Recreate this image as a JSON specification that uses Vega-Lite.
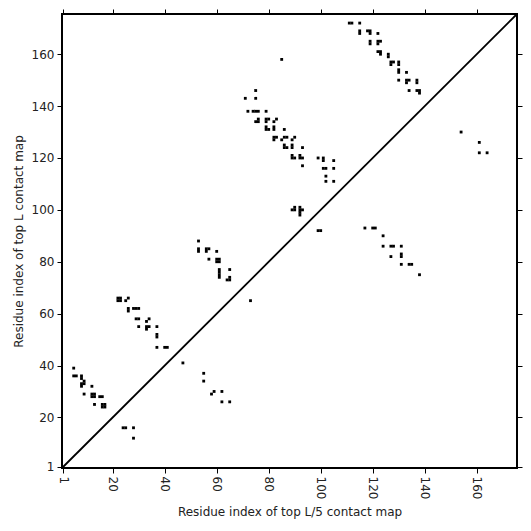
{
  "$schema": "https://vega.github.io/schema/vega-lite/v6.json",
  "width": 455,
  "height": 454,
  "autosize": {"type": "none"},
  "padding": {"left": 62, "top": 14, "right": 14, "bottom": 63},
  "background": "white",
  "config": {
    "view": {"stroke": "black", "strokeWidth": 2},
    "font": "DejaVu Sans",
    "axis": {"labelFont": "DejaVu Sans", "titleFont": "DejaVu Sans", "labelFontSize": 12, "titleFontSize": 12, "titleFontWeight": "normal", "labelColor": "#222", "titleColor": "#222", "tickColor": "black", "tickSize": 5, "tickWidth": 1, "grid": false, "domain": false, "labelPadding": 3}
  },
  "datasets": {
    "cells": [
      {"i":111,"j":172},{"i":112,"j":172},{"i":115,"j":172},
      {"i":115,"j":169},{"i":115,"j":168},{"i":118,"j":169},{"i":119,"j":169},{"i":119,"j":168},{"i":122,"j":168},
      {"i":119,"j":165},{"i":119,"j":164},{"i":122,"j":165},{"i":123,"j":165},{"i":122,"j":164},
      {"i":122,"j":161},{"i":123,"j":161},{"i":123,"j":160},{"i":126,"j":160},{"i":126,"j":159},
      {"i":127,"j":157},{"i":127,"j":156},{"i":128,"j":157},{"i":130,"j":157},{"i":130,"j":156},
      {"i":130,"j":154},{"i":130,"j":153},{"i":133,"j":153},
      {"i":130,"j":150},{"i":133,"j":150},{"i":134,"j":150},{"i":133,"j":149},{"i":137,"j":150},{"i":137,"j":149},
      {"i":134,"j":146},{"i":137,"j":146},{"i":138,"j":146},{"i":138,"j":145},
      {"i":85,"j":158},
      {"i":75,"j":146},{"i":71,"j":143},{"i":75,"j":143},
      {"i":72,"j":138},{"i":74,"j":138},{"i":75,"j":138},{"i":76,"j":138},{"i":79,"j":138},
      {"i":75,"j":134},{"i":76,"j":134},{"i":76,"j":135},{"i":79,"j":135},{"i":80,"j":135},{"i":79,"j":134},{"i":83,"j":135},{"i":82,"j":134},
      {"i":79,"j":131},{"i":79,"j":132},{"i":80,"j":131},{"i":82,"j":131},{"i":82,"j":132},{"i":86,"j":131},
      {"i":82,"j":128},{"i":83,"j":128},{"i":82,"j":127},{"i":86,"j":128},{"i":87,"j":128},{"i":85,"j":127},{"i":89,"j":127},{"i":90,"j":128},
      {"i":86,"j":125},{"i":86,"j":124},{"i":87,"j":124},{"i":89,"j":125},{"i":89,"j":124},{"i":93,"j":124},
      {"i":89,"j":121},{"i":89,"j":120},{"i":90,"j":120},{"i":92,"j":121},{"i":92,"j":120},{"i":93,"j":120},
      {"i":93,"j":117},
      {"i":99,"j":120},{"i":101,"j":120},{"i":101,"j":119},{"i":105,"j":119},{"i":101,"j":116},{"i":102,"j":116},{"i":105,"j":116},{"i":102,"j":113},{"i":102,"j":111},{"i":105,"j":111},
      {"i":89,"j":100},{"i":90,"j":100},{"i":90,"j":101},{"i":92,"j":101},{"i":92,"j":100},{"i":93,"j":100},{"i":92,"j":99},{"i":92,"j":98},
      {"i":53,"j":88},{"i":53,"j":85},{"i":53,"j":84},{"i":56,"j":85},{"i":57,"j":85},{"i":56,"j":84},{"i":60,"j":84},{"i":57,"j":81},{"i":60,"j":81},{"i":61,"j":81},{"i":60,"j":80},{"i":61,"j":80},{"i":61,"j":77},{"i":61,"j":76},{"i":61,"j":75},{"i":65,"j":77},{"i":61,"j":74},{"i":64,"j":73},{"i":65,"j":73},{"i":65,"j":74},
      {"i":22,"j":66},{"i":23,"j":66},{"i":22,"j":65},{"i":23,"j":65},{"i":26,"j":66},{"i":25,"j":65},{"i":26,"j":62},{"i":26,"j":61},{"i":28,"j":62},{"i":29,"j":62},{"i":30,"j":62},{"i":29,"j":58},{"i":30,"j":58},{"i":34,"j":58},{"i":33,"j":57},{"i":30,"j":55},{"i":33,"j":55},{"i":34,"j":55},{"i":33,"j":54},{"i":37,"j":55},{"i":37,"j":52},{"i":37,"j":51},{"i":37,"j":47},{"i":40,"j":47},{"i":41,"j":47},
      {"i":5,"j":39},{"i":5,"j":36},{"i":6,"j":36},{"i":8,"j":36},{"i":8,"j":35},{"i":9,"j":34},{"i":8,"j":33},{"i":9,"j":33},{"i":8,"j":32},{"i":12,"j":32},{"i":9,"j":29},{"i":12,"j":29},{"i":13,"j":29},{"i":12,"j":28},{"i":13,"j":28},{"i":15,"j":28},{"i":16,"j":28},{"i":13,"j":25},{"i":16,"j":25},{"i":17,"j":25},{"i":16,"j":24},{"i":17,"j":24},
      {"i":24,"j":16},{"i":25,"j":16},{"i":28,"j":16},{"i":28,"j":12},{"i":47,"j":41},{"i":55,"j":37},{"i":55,"j":34},{"i":59,"j":30},{"i":58,"j":29},{"i":62,"j":30},{"i":62,"j":26},{"i":65,"j":26},{"i":73,"j":65},
      {"i":99,"j":92},{"i":100,"j":92},{"i":117,"j":93},{"i":120,"j":93},{"i":121,"j":93},{"i":124,"j":90},{"i":124,"j":86},{"i":127,"j":86},{"i":128,"j":86},{"i":131,"j":86},{"i":127,"j":82},{"i":131,"j":83},{"i":131,"j":82},{"i":131,"j":79},{"i":134,"j":79},{"i":135,"j":79},{"i":138,"j":75},
      {"i":154,"j":130},{"i":161,"j":126},{"i":161,"j":122},{"i":164,"j":122}
    ],
    "diag": [{"i":0.5,"j":0.5},{"i":175.5,"j":175.5}]
  },
  "layer": [
    {
      "data": {"name": "cells"},
      "mark": {"type": "point", "shape": "square", "filled": true, "size": 8, "color": "black", "opacity": 1, "strokeWidth": 0},
      "encoding": {
        "x": {"field": "i", "type": "quantitative", "scale": {"domain": [0.5, 175.5], "nice": false, "zero": false},
          "axis": {"values": [1,20,40,60,80,100,120,140,160], "labelAngle": 90, "labelAlign": "left", "labelBaseline": "middle", "title": "Residue index of top L/5 contact map", "titlePadding": 8}},
        "y": {"field": "j", "type": "quantitative", "scale": {"domain": [0.5, 175.5], "nice": false, "zero": false},
          "axis": {"values": [1,20,40,60,80,100,120,140,160], "title": "Residue index of top L contact map", "titlePadding": 6}}
      }
    },
    {
      "data": {"name": "diag"},
      "mark": {"type": "line", "color": "black", "strokeWidth": 1.8},
      "encoding": {
        "x": {"field": "i", "type": "quantitative", "axis": {"orient": "top", "values": [1,20,40,60,80,100,120,140,160], "labels": false, "title": null}},
        "y": {"field": "j", "type": "quantitative", "axis": {"orient": "right", "values": [1,20,40,60,80,100,120,140,160], "labels": false, "title": null}}
      }
    }
  ],
  "resolve": {"axis": {"x": "independent", "y": "independent"}}
}
